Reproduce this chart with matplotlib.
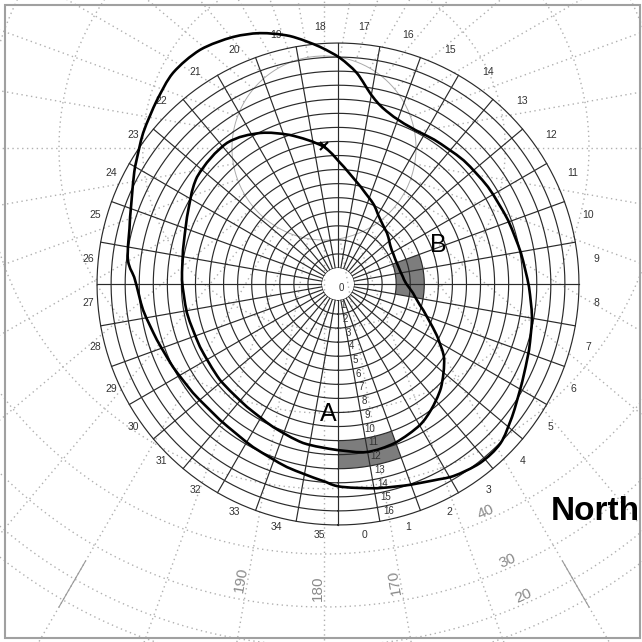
import numpy as np
import matplotlib
matplotlib.use("Agg")
import matplotlib.pyplot as plt
from matplotlib.path import Path
from matplotlib.patches import PathPatch
from matplotlib.transforms import offset_copy

plt.rcParams['font.family'] = ['Liberation Sans', 'DejaVu Sans']

# chart angle in degrees: 0 at the bottom, counter-clockwise; radius in ring units
sector_labels = [str(i) for i in range(36)]
ring_labels = [str(i) for i in range(1, 17)]

outer_theta = [0, 10.8, 20, 26, 31, 38.5, 45.5, 52.6, 61.7, 70.9, 80.3, 89.1,
               99.6, 110.6, 122.9, 134.5, 146.3, 155.4, 163.4, 169.4, 174.9,
               179.5, 184.3, 191.0, 197.3, 203.0, 210.5, 218.0, 224.5, 232.2,
               240.0, 252.1, 263.5, 268.9, 277.6, 287.2, 296.7, 306.9, 319.1,
               332.5, 344.4, 354.8]
outer_ring = [13.25, 13.65, 14.05, 14.4, 14.8, 15.12, 15.05, 14.44, 13.72, 13.24,
              12.86, 12.45, 12.06, 11.78, 11.57, 11.40, 11.2, 11.15, 11.55,
              12.39, 13.93, 14.94, 15.77, 16.83, 17.55, 17.95, 18.19, 17.92,
              17.22, 16.40, 15.53, 14.40, 13.90, 13.30, 12.85, 12.34, 12.00,
              11.76, 11.67, 11.94, 12.38, 12.86]

inner_theta = [9.8, 19.7, 30.2, 36.4, 44.7, 55.1, 61.6, 73.0, 83.2, 96.1, 119.4,
               136.1, 147.1, 155.5, 166.7, 177.1, 185.8, 197.9, 207.3, 218.2,
               232.8, 246.1, 257.6, 268.5, 280.9, 294.5, 309.1, 323.5, 335.6,
               347.6, 359.7]
inner_ring = [10.99, 10.87, 10.46, 10.0, 9.27, 8.06, 6.94, 5.2, 4.23, 3.51, 3.35,
              3.89, 4.37, 5.04, 5.95, 7.20, 8.66, 10.0, 10.95, 11.63, 11.45,
              10.61, 10.15, 9.96, 9.80, 9.65, 9.68, 9.74, 10.03, 10.44, 10.67]

# shaded cells
zone_names = ["A", "B"]
zone_theta = [(0, 20), (80, 110)]
zone_ring = [(10, 12), (3, 5)]
zone_label_theta = [355.6, 111.3]
zone_label_ring = [8.1, 6.5]

mark_theta = 186
mark_ring = 8.7

# sky grid behind the chart (degrees)
sky_elev = [80, 70, 60, 50, 40, 30, 20, 10]
sky_azimuth = list(range(0, 360, 10))
sky_solid_azimuth = [150, 210]
azimuth_labels = [190, 180, 170]
elev_labels = [40, 30, 20]


def closed_curve(theta_deg, ring):
    # smooth closed path (Catmull-Rom as cubic Bezier) through the read points
    th = np.radians(np.asarray(theta_deg, float))
    rr = np.asarray(ring, float)
    n = len(th)
    tt = np.concatenate([[th[-1] - 2 * np.pi], th, th[:2] + 2 * np.pi])
    rx = np.concatenate([[rr[-1]], rr, rr[:2]])
    pts = np.column_stack([tt, rx])
    verts = [pts[1]]
    codes = [Path.MOVETO]
    for i in range(n):
        p0, p1, p2, p3 = pts[i], pts[i + 1], pts[i + 2], pts[i + 3]
        verts += [p1 + (p2 - p0) / 6, p2 - (p3 - p1) / 6, p2]
        codes += [Path.CURVE4] * 3
    return Path(np.array(verts), codes)


W = 642
fig = plt.figure(figsize=(6.42, 6.42), dpi=100)
fig.patch.set_facecolor('white')

# ---- background sky grid (orthographic, zenith above the chart centre)
zx, zy, R_sky, sky_rmax = 324, 148, 530, 1.2
Rb = sky_rmax * R_sky
bg = fig.add_axes([(zx - Rb) / W, (W - zy - Rb) / W, 2 * Rb / W, 2 * Rb / W],
                  projection='polar')
bg.set_theta_zero_location('N')
bg.set_theta_direction(-1)
bg.set_ylim(0, sky_rmax)
bg.axis('off')

t = np.linspace(0, 2 * np.pi, 720)
dots = (0, (1, 2.5))
for e in sky_elev:
    r = np.cos(np.radians(e))
    if e == 80:
        bg.plot(t, np.full_like(t, r), color='#aaaaaa', lw=0.7)
    else:
        bg.plot(t, np.full_like(t, r), color='#b0b0b0', lw=1.0, ls=dots)
r80 = np.cos(np.radians(80))
for a in sky_azimuth:
    bg.plot([np.radians(a)] * 2, [r80, sky_rmax], color='#b0b0b0', lw=1.0, ls=dots)
for a in sky_solid_azimuth:
    bg.plot([np.radians(a)] * 2, [0.9, 1.0], color='#999999', lw=0.8)
for a in azimuth_labels:
    bg.text(np.radians(a + 0.8), 0.83, str(a), rotation=90 + (180 - a),
            ha='center', va='center', fontsize=11, color='#8a8a8a')
for e in elev_labels:
    bg.text(np.radians(156), np.cos(np.radians(e)) - 0.014, str(e), rotation=24,
            ha='center', va='center', fontsize=11, color='#8a8a8a')

# ---- main polar chart
S = 14.06
O = 16 / S
rmax = 20
R = (rmax + O) * S
cx, cy = 338, 284
ax = fig.add_axes([(cx - R) / W, (W - cy - R) / W, 2 * R / W, 2 * R / W],
                  projection='polar')
ax.set_theta_zero_location('S')
ax.set_theta_direction(1)
ax.set_rorigin(-O)
ax.set_ylim(0, rmax)
ax.axis('off')

grid_c = '#2a2a2a'
for (t0, t1), (r0, r1) in zip(zone_theta, zone_ring):
    ax.bar(np.radians((t0 + t1) / 2), r1 - r0, width=np.radians(t1 - t0), bottom=r0,
           color='#7d7d7d', edgecolor='none', zorder=1)

for k in range(17):
    ax.plot(t, np.full_like(t, k), color=grid_c, lw=0.85, zorder=2)
for i in range(36):
    th = np.radians(10 * i)
    ax.plot([th, th], [0, 16], color=grid_c, lw=0.85, zorder=2)

for th_list, r_list in [(outer_theta, outer_ring), (inner_theta, inner_ring)]:
    ax.add_patch(PathPatch(closed_curve(th_list, r_list), transform=ax.transData,
                           fill=False, ec='black', lw=1.9, zorder=4))
ax.plot(np.radians(mark_theta), mark_ring, marker='x', ms=6, mew=1.5,
        color='black', zorder=5)

# sector numbers sit a little up and right of their sector centre
lab_tr = offset_copy(ax.transData, fig=fig, x=4, y=3, units='dots')
for i, lab in enumerate(sector_labels):
    ax.text(np.radians(5 + 10 * i), 17.0, lab, ha='center', va='center',
            fontsize=7.5, color='#333333', transform=lab_tr)
for k, lab in enumerate(ring_labels, start=1):
    ax.text(np.radians(12.5), k - 0.6, lab, ha='center', va='center',
            fontsize=7, color='#333333', zorder=6)
ax.text(np.radians(40), -0.75, '0', ha='center', va='center', fontsize=7,
        color='#333333')

for name, th, rr in zip(zone_names, zone_label_theta, zone_label_ring):
    ax.text(np.radians(th), rr, name, ha='center', va='center', fontsize=18,
            color='black', zorder=6)

fig.text(551 / W, 1 - 512 / W, 'North', fontsize=24, fontweight='bold',
         ha='left', va='center')

fig.add_artist(plt.Rectangle((5 / W, 4 / W), 635 / W, 633 / W,
                             transform=fig.transFigure, fill=False,
                             ec='#a0a0a0', lw=1.5))

fig.savefig('out.png', dpi=100)
